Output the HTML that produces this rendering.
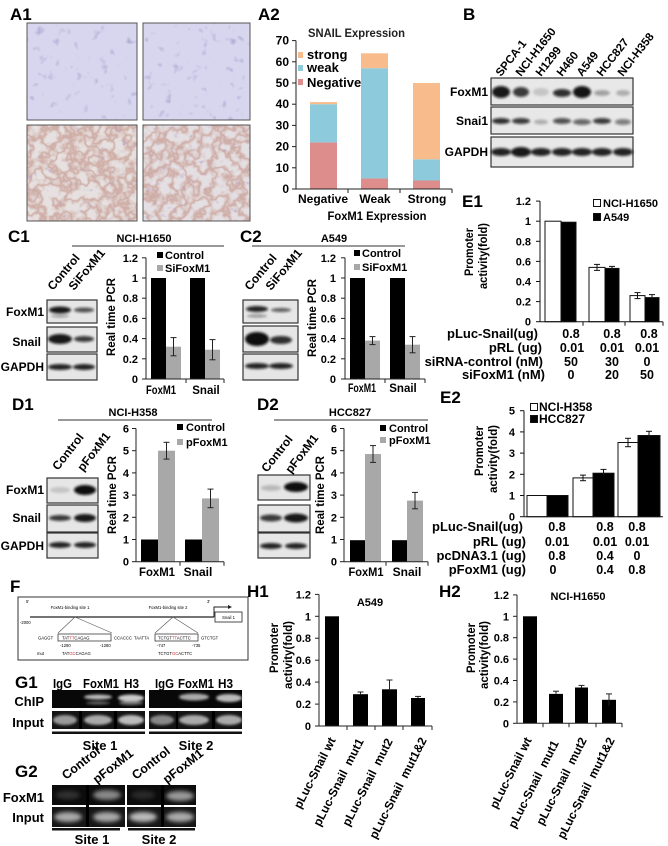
<!DOCTYPE html>
<html><head><meta charset="utf-8"><style>
html,body{margin:0;padding:0;background:#fff;}
svg{display:block;font-family:"Liberation Sans",Arial,sans-serif;font-weight:bold;}
.pl{font-size:17px;}
.tk{font-size:11px;}
.lb{font-size:12px;}
.sm{font-size:4.2px;font-weight:normal;}
</style></head><body>
<svg width="668" height="846" viewBox="0 0 668 846" xmlns="http://www.w3.org/2000/svg">
<defs>
<filter id="bl" x="-50%" y="-100%" width="200%" height="300%"><feGaussianBlur stdDeviation="1.3"/></filter>
<filter id="bl2" x="-50%" y="-100%" width="200%" height="300%"><feGaussianBlur stdDeviation="2"/></filter>
<filter id="mt" x="0" y="0" width="1" height="1">
 <feTurbulence type="fractalNoise" baseFrequency="0.11" numOctaves="2" seed="4"/>
 <feColorMatrix type="matrix" values="0 0 0 0 0.38  0 0 0 0 0.36  0 0 0 0 0.62  1 0 0 0 0"/>
 <feComponentTransfer><feFuncA type="table" tableValues="0 0 0 0 0 0 0.4 0.8 1"/></feComponentTransfer>
</filter>
<filter id="mb" x="0" y="0" width="1" height="1">
 <feTurbulence type="fractalNoise" baseFrequency="0.07" numOctaves="3" seed="7"/>
 <feColorMatrix type="matrix" values="0 0 0 0 0.58  0 0 0 0 0.34  0 0 0 0 0.30  1 0 0 0 0"/>
 <feComponentTransfer><feFuncA type="table" tableValues="0 0 0 0 0 0.3 0.8 0.3 0 0 0 0 0"/></feComponentTransfer>
</filter>
<filter id="mb2" x="0" y="0" width="1" height="1">
 <feTurbulence type="fractalNoise" baseFrequency="0.15" numOctaves="2" seed="11"/>
 <feColorMatrix type="matrix" values="0 0 0 0 0.42  0 0 0 0 0.32  0 0 0 0 0.58  1 0 0 0 0"/>
 <feComponentTransfer><feFuncA type="table" tableValues="0 0 0 0 0 0 0 0.3 0.7 0.9"/></feComponentTransfer>
</filter>
</defs>

<!-- ================= A1 ================= -->
<text class="pl" x="10" y="20">A1</text>
<rect x="27" y="23" width="110" height="97" fill="#d8d6ee"/>
<rect x="27" y="23" width="110" height="97" filter="url(#mt)"/>
<rect x="27" y="23" width="110" height="97" fill="none" stroke="#555" stroke-width="1"/>
<rect x="143" y="23" width="107" height="97" fill="#d8d6ee"/>
<rect x="143" y="23" width="107" height="97" filter="url(#mt)"/>
<rect x="143" y="23" width="107" height="97" fill="none" stroke="#555" stroke-width="1"/>
<rect x="27" y="125" width="110" height="96" fill="#e6e1e0"/>
<rect x="27" y="125" width="110" height="96" filter="url(#mb)"/>
<rect x="27" y="125" width="110" height="96" filter="url(#mb2)"/>
<rect x="27" y="125" width="110" height="96" fill="none" stroke="#555" stroke-width="1"/>
<rect x="143" y="125" width="107" height="96" fill="#e4dfe2"/>
<rect x="143" y="125" width="107" height="96" filter="url(#mb2)"/>
<rect x="143" y="125" width="107" height="96" filter="url(#mb)"/>
<rect x="143" y="125" width="107" height="96" fill="none" stroke="#555" stroke-width="1"/>

<!-- ================= A2 ================= -->
<text class="pl" x="258" y="20">A2</text>
<text x="308" y="37" font-size="12" textLength="97" lengthAdjust="spacingAndGlyphs" fill="#222">SNAIL Expression</text>
<g class="lb" font-size="12" text-anchor="end">
<text x="289" y="193">0</text><text x="289" y="171.8">10</text><text x="289" y="150.6">20</text><text x="289" y="129.4">30</text>
<text x="289" y="108.2">40</text><text x="289" y="87">50</text><text x="289" y="65.8">60</text><text x="289" y="44.6">70</text>
</g>
<g stroke="#222" stroke-width="1">
<line x1="296" y1="40.6" x2="296" y2="189"/>
<line x1="292" y1="189" x2="296" y2="189"/><line x1="292" y1="167.8" x2="296" y2="167.8"/><line x1="292" y1="146.6" x2="296" y2="146.6"/>
<line x1="292" y1="125.4" x2="296" y2="125.4"/><line x1="292" y1="104.2" x2="296" y2="104.2"/><line x1="292" y1="83" x2="296" y2="83"/>
<line x1="292" y1="61.8" x2="296" y2="61.8"/><line x1="292" y1="40.6" x2="296" y2="40.6"/>
</g>
<rect x="310" y="142.4" width="27" height="46.6" fill="#dd8d8c"/>
<rect x="310" y="104.2" width="27" height="38.2" fill="#8dcadb"/>
<rect x="310" y="102.1" width="27" height="2.1" fill="#f8bb8c"/>
<rect x="361" y="178.4" width="27" height="10.6" fill="#dd8d8c"/>
<rect x="361" y="68.2" width="27" height="110.2" fill="#8dcadb"/>
<rect x="361" y="53.3" width="27" height="14.9" fill="#f8bb8c"/>
<rect x="413" y="180.5" width="27" height="8.5" fill="#dd8d8c"/>
<rect x="413" y="159.3" width="27" height="21.2" fill="#8dcadb"/>
<rect x="413" y="83" width="27" height="76.3" fill="#f8bb8c"/>
<g stroke="#222" stroke-width="1">
<line x1="296" y1="189" x2="452" y2="189"/>
<line x1="348" y1="189" x2="348" y2="193"/><line x1="400" y1="189" x2="400" y2="193"/><line x1="452" y1="189" x2="452" y2="193"/>
</g>
<g class="lb" text-anchor="middle">
<text x="323" y="203">Negative</text><text x="375" y="203">Weak</text><text x="427" y="203">Strong</text>
</g>
<text x="377" y="220" font-size="12" text-anchor="middle" textLength="99" lengthAdjust="spacingAndGlyphs">FoxM1 Expression</text>
<rect x="298" y="52" width="5" height="6" fill="#f8bb8c"/>
<rect x="298" y="65" width="5" height="6" fill="#8dcadb"/>
<rect x="298" y="79" width="5" height="6" fill="#dd8d8c"/>
<g font-size="13"><text x="307" y="59">strong</text><text x="307" y="72">weak</text><text x="307" y="87">Negative</text></g>

<!-- ================= B ================= -->
<text class="pl" x="463" y="20">B</text>
<g font-size="11.5">
<text transform="translate(501,77) rotate(-52)">SPCA-1</text>
<text transform="translate(521,77) rotate(-52)">NCI-H1650</text>
<text transform="translate(541,77) rotate(-52)">H1299</text>
<text transform="translate(562,77) rotate(-52)">H460</text>
<text transform="translate(582,77) rotate(-52)">A549</text>
<text transform="translate(602,77) rotate(-52)">HCC827</text>
<text transform="translate(623,77) rotate(-52)">NCI-H358</text>
</g>
<rect x="491" y="78" width="142" height="27" fill="#e8e8e8" stroke="#333" stroke-width="1.2"/>
<rect x="491" y="107" width="142" height="27" fill="#e8e8e8" stroke="#333" stroke-width="1.2"/>
<rect x="491" y="137" width="142" height="30" fill="#e8e8e8" stroke="#333" stroke-width="1.2"/>
<g filter="url(#bl)" fill="#111">
<ellipse cx="501" cy="92" rx="9" ry="6" opacity=".95"/>
<ellipse cx="521" cy="92" rx="8" ry="5" opacity=".8"/>
<ellipse cx="541" cy="92" rx="8" ry="4" opacity=".15"/>
<ellipse cx="562" cy="93" rx="9" ry="4" opacity=".85"/>
<ellipse cx="582" cy="92" rx="9" ry="6" opacity=".97"/>
<ellipse cx="602" cy="93" rx="8" ry="3" opacity=".3"/>
<ellipse cx="623" cy="93" rx="7" ry="3" opacity=".25"/>
<ellipse cx="501" cy="121" rx="9" ry="3" opacity=".85"/>
<ellipse cx="521" cy="121" rx="9" ry="3" opacity=".8"/>
<ellipse cx="541" cy="122" rx="7" ry="2.5" opacity=".25"/>
<ellipse cx="562" cy="121" rx="9" ry="3" opacity=".7"/>
<ellipse cx="582" cy="122" rx="9" ry="3" opacity=".6"/>
<ellipse cx="602" cy="121" rx="9" ry="3" opacity=".8"/>
<ellipse cx="623" cy="122" rx="8" ry="3" opacity=".5"/>
<ellipse cx="501" cy="152" rx="10" ry="4" opacity=".9"/>
<ellipse cx="521" cy="152" rx="10" ry="5" opacity=".95"/>
<ellipse cx="541" cy="152" rx="10" ry="4" opacity=".9"/>
<ellipse cx="562" cy="152" rx="10" ry="4" opacity=".9"/>
<ellipse cx="582" cy="152" rx="10" ry="4" opacity=".9"/>
<ellipse cx="602" cy="152" rx="10" ry="4" opacity=".9"/>
<ellipse cx="623" cy="152" rx="10" ry="4" opacity=".9"/>
</g>
<g font-size="12" text-anchor="end">
<text x="488" y="96">FoxM1</text><text x="488" y="125">Snai1</text><text x="488" y="156">GAPDH</text>
</g>

<!-- ================= C1 ================= -->
<text class="pl" x="8" y="242">C1</text>
<text x="144" y="242" font-size="11" text-anchor="middle">NCI-H1650</text>
<line x1="72" y1="246" x2="224" y2="246" stroke="#333" stroke-width="1"/>
<g font-size="12">
<text transform="translate(53,291) rotate(-50)">Control</text>
<text transform="translate(74,291) rotate(-50)">SiFoxM1</text>
</g>
<rect x="47" y="300" width="50" height="23" fill="#e6e6e6" stroke="#333" stroke-width="1.2"/>
<rect x="47" y="327" width="50" height="25" fill="#e6e6e6" stroke="#333" stroke-width="1.2"/>
<rect x="47" y="354" width="50" height="26" fill="#e6e6e6" stroke="#333" stroke-width="1.2"/>
<g filter="url(#bl)" fill="#111">
<ellipse cx="60" cy="310" rx="11" ry="3.5" opacity=".95"/>
<ellipse cx="60" cy="316" rx="9" ry="1.5" opacity=".35"/>
<ellipse cx="84" cy="310" rx="10" ry="2.5" opacity=".7"/>
<ellipse cx="60" cy="339" rx="12" ry="5" opacity=".95"/>
<ellipse cx="84" cy="339" rx="10" ry="3" opacity=".8"/>
<ellipse cx="60" cy="367" rx="12" ry="3" opacity=".9"/>
<ellipse cx="84" cy="367" rx="11" ry="3" opacity=".9"/>
</g>
<g font-size="12" text-anchor="end">
<text x="44" y="316">FoxM1</text><text x="41" y="346">Snail</text><text x="44" y="371">GAPDH</text>
</g>
<text transform="translate(115,317) rotate(-90)" font-size="12" text-anchor="middle" textLength="78" lengthAdjust="spacingAndGlyphs">Real time PCR</text>
<g class="tk" text-anchor="end">
<text x="138" y="383">0</text><text x="138" y="362.8">0.2</text><text x="138" y="342.6">0.4</text><text x="138" y="322.4">0.6</text>
<text x="138" y="302.2">0.8</text><text x="138" y="282">1</text><text x="138" y="261.8">1.2</text>
</g>
<rect x="151" y="278" width="15" height="101" fill="#000"/>
<rect x="166" y="346.7" width="15" height="32.3" fill="#a8a8a8"/>
<rect x="190" y="278" width="15" height="101" fill="#000"/>
<rect x="205" y="349.7" width="15" height="29.3" fill="#a8a8a8"/>
<g stroke="#222" stroke-width="1">
<line x1="146" y1="257.8" x2="146" y2="379"/>
<line x1="142" y1="379" x2="146" y2="379"/><line x1="142" y1="358.8" x2="146" y2="358.8"/><line x1="142" y1="338.6" x2="146" y2="338.6"/>
<line x1="142" y1="318.4" x2="146" y2="318.4"/><line x1="142" y1="298.2" x2="146" y2="298.2"/><line x1="142" y1="278" x2="146" y2="278"/><line x1="142" y1="257.8" x2="146" y2="257.8"/>
<line x1="146" y1="379" x2="224" y2="379"/><line x1="186" y1="379" x2="186" y2="383"/><line x1="224" y1="379" x2="224" y2="383"/>
<line x1="173.5" y1="337.6" x2="173.5" y2="355.8"/><line x1="170.5" y1="337.6" x2="176.5" y2="337.6"/><line x1="170.5" y1="355.8" x2="176.5" y2="355.8"/>
<line x1="212.5" y1="339.6" x2="212.5" y2="359.8"/><line x1="209.5" y1="339.6" x2="215.5" y2="339.6"/><line x1="209.5" y1="359.8" x2="215.5" y2="359.8"/>
</g>
<rect x="157" y="252" width="6" height="6" fill="#000"/>
<rect x="157" y="265" width="6" height="6" fill="#a8a8a8"/>
<g font-size="11"><text x="165" y="259">Control</text><text x="165" y="272">SiFoxM1</text></g>
<g font-size="11.5" text-anchor="middle"><text x="161" y="394" textLength="30" lengthAdjust="spacingAndGlyphs">FoxM1</text><text x="206" y="394">Snail</text></g>

<!-- ================= C2 ================= -->
<text class="pl" x="240" y="242">C2</text>
<text x="334" y="242" font-size="11" text-anchor="middle">A549</text>
<line x1="252" y1="246" x2="405" y2="246" stroke="#333" stroke-width="1"/>
<g font-size="12">
<text transform="translate(250,291) rotate(-50)">Control</text>
<text transform="translate(271,291) rotate(-50)">SiFoxM1</text>
</g>
<rect x="243" y="300" width="55" height="23" fill="#e6e6e6" stroke="#333" stroke-width="1.2"/>
<rect x="243" y="326" width="55" height="26" fill="#e6e6e6" stroke="#333" stroke-width="1.2"/>
<rect x="243" y="354" width="55" height="26" fill="#e6e6e6" stroke="#333" stroke-width="1.2"/>
<g filter="url(#bl)" fill="#111">
<ellipse cx="257" cy="309" rx="11" ry="3" opacity=".9"/>
<ellipse cx="257" cy="316" rx="10" ry="1.5" opacity=".4"/>
<ellipse cx="281" cy="310" rx="10" ry="2" opacity=".65"/>
<ellipse cx="257" cy="339" rx="12" ry="7" opacity="1"/>
<ellipse cx="281" cy="340" rx="11" ry="4" opacity=".85"/>
<ellipse cx="257" cy="366" rx="12" ry="3" opacity=".9"/>
<ellipse cx="281" cy="366" rx="12" ry="3" opacity=".9"/>
</g>
<text transform="translate(316,318) rotate(-90)" font-size="12" text-anchor="middle" textLength="78" lengthAdjust="spacingAndGlyphs">Real time PCR</text>
<g class="tk" text-anchor="end">
<text x="336" y="383">0</text><text x="336" y="362.8">0.2</text><text x="336" y="342.6">0.4</text><text x="336" y="322.4">0.6</text>
<text x="336" y="302.2">0.8</text><text x="336" y="282">1</text><text x="336" y="261.8">1.2</text>
</g>
<rect x="350" y="278" width="15" height="101" fill="#000"/>
<rect x="365" y="340.6" width="15" height="38.4" fill="#a8a8a8"/>
<rect x="390" y="278" width="15" height="101" fill="#000"/>
<rect x="405" y="344.7" width="15" height="34.3" fill="#a8a8a8"/>
<g stroke="#222" stroke-width="1">
<line x1="345" y1="257.8" x2="345" y2="379"/>
<line x1="341" y1="379" x2="345" y2="379"/><line x1="341" y1="358.8" x2="345" y2="358.8"/><line x1="341" y1="338.6" x2="345" y2="338.6"/>
<line x1="341" y1="318.4" x2="345" y2="318.4"/><line x1="341" y1="298.2" x2="345" y2="298.2"/><line x1="341" y1="278" x2="345" y2="278"/><line x1="341" y1="257.8" x2="345" y2="257.8"/>
<line x1="345" y1="379" x2="425" y2="379"/><line x1="385" y1="379" x2="385" y2="383"/><line x1="425" y1="379" x2="425" y2="383"/>
<line x1="372.5" y1="336.6" x2="372.5" y2="344.6"/><line x1="369.5" y1="336.6" x2="375.5" y2="336.6"/><line x1="369.5" y1="344.6" x2="375.5" y2="344.6"/>
<line x1="412.5" y1="336.6" x2="412.5" y2="352.8"/><line x1="409.5" y1="336.6" x2="415.5" y2="336.6"/><line x1="409.5" y1="352.8" x2="415.5" y2="352.8"/>
</g>
<rect x="354" y="250" width="6" height="6" fill="#000"/>
<rect x="354" y="264" width="6" height="6" fill="#a8a8a8"/>
<g font-size="11"><text x="362" y="257">Control</text><text x="362" y="271">SiFoxM1</text></g>
<g font-size="11.5" text-anchor="middle"><text x="362" y="392" textLength="28" lengthAdjust="spacingAndGlyphs">FoxM1</text><text x="403" y="392">Snail</text></g>

<!-- ================= E1 ================= -->
<text class="pl" x="462" y="207">E1</text>
<text transform="translate(473,252) rotate(-90)" font-size="12" text-anchor="middle" textLength="48" lengthAdjust="spacingAndGlyphs">Promoter</text>
<text transform="translate(487,256) rotate(-90)" font-size="12" text-anchor="middle" textLength="66" lengthAdjust="spacingAndGlyphs">activity(fold)</text>
<g class="tk" text-anchor="end">
<text x="531" y="325.7">0</text><text x="531" y="305.6">0.2</text><text x="531" y="285.5">0.4</text><text x="531" y="265.4">0.6</text>
<text x="531" y="245.3">0.8</text><text x="531" y="225.2">1</text><text x="531" y="205.1">1.2</text>
</g>
<g stroke="#111" stroke-width="1">
<rect x="545" y="221.2" width="16" height="100.5" fill="#fff"/>
<rect x="561" y="222.2" width="15" height="99.5" fill="#000"/>
<rect x="589" y="267.4" width="16" height="54.3" fill="#fff"/>
<rect x="605" y="268.4" width="14" height="53.3" fill="#000"/>
<rect x="630" y="295.6" width="15" height="26.1" fill="#fff"/>
<rect x="645" y="297.6" width="14" height="24.1" fill="#000"/>
<line x1="540" y1="201.1" x2="540" y2="321.7"/>
<line x1="536" y1="321.7" x2="540" y2="321.7"/><line x1="536" y1="301.6" x2="540" y2="301.6"/><line x1="536" y1="281.5" x2="540" y2="281.5"/>
<line x1="536" y1="261.4" x2="540" y2="261.4"/><line x1="536" y1="241.3" x2="540" y2="241.3"/><line x1="536" y1="221.2" x2="540" y2="221.2"/><line x1="536" y1="201.1" x2="540" y2="201.1"/>
<line x1="540" y1="321.7" x2="663" y2="321.7"/><line x1="583" y1="321.7" x2="583" y2="325.7"/><line x1="625" y1="321.7" x2="625" y2="325.7"/><line x1="663" y1="321.7" x2="663" y2="325.7"/>
<line x1="597" y1="264.4" x2="597" y2="270.4"/><line x1="594" y1="264.4" x2="600" y2="264.4"/><line x1="594" y1="270.4" x2="600" y2="270.4"/>
<line x1="612" y1="266.4" x2="612" y2="270.4"/><line x1="609" y1="266.4" x2="615" y2="266.4"/>
<line x1="637.5" y1="292.6" x2="637.5" y2="298.6"/><line x1="634.5" y1="292.6" x2="640.5" y2="292.6"/><line x1="634.5" y1="298.6" x2="640.5" y2="298.6"/>
<line x1="652" y1="294.6" x2="652" y2="300.6"/><line x1="649" y1="294.6" x2="655" y2="294.6"/>
<rect x="593.5" y="199.5" width="7" height="7" fill="#fff"/>
<rect x="593.5" y="213.5" width="7" height="7" fill="#000"/>
</g>
<g font-size="11"><text x="603" y="207">NCI-H1650</text><text x="603" y="221">A549</text></g>
<g font-size="13" text-anchor="end">
<text x="538" y="338">pLuc-Snail(ug)</text>
<text x="542" y="352">pRL (ug)</text>
<text x="543" y="366">siRNA-control (nM)</text>
<text x="545" y="379">siFoxM1 (nM)</text>
</g>
<g font-size="12.5" text-anchor="middle">
<text x="571" y="338">0.8</text><text x="612" y="338">0.8</text><text x="649" y="338">0.8</text>
<text x="572" y="352">0.01</text><text x="612" y="352">0.01</text><text x="647" y="352">0.01</text>
<text x="571" y="366">50</text><text x="612" y="366">30</text><text x="647" y="366">0</text>
<text x="571" y="379">0</text><text x="612" y="379">20</text><text x="647" y="379">50</text>
</g>

<!-- ================= D1 ================= -->
<text class="pl" x="12" y="410">D1</text>
<text x="133" y="416" font-size="11" text-anchor="middle">NCI-H358</text>
<line x1="58" y1="420" x2="212" y2="420" stroke="#333" stroke-width="1"/>
<g font-size="12">
<text transform="translate(58,471) rotate(-52)">Control</text>
<text transform="translate(83,472) rotate(-52)">pFoxM1</text>
</g>
<rect x="47" y="478" width="51" height="25" fill="#e6e6e6" stroke="#333" stroke-width="1.2"/>
<rect x="47" y="505" width="51" height="27" fill="#e6e6e6" stroke="#333" stroke-width="1.2"/>
<rect x="47" y="533" width="51" height="25" fill="#e6e6e6" stroke="#333" stroke-width="1.2"/>
<g filter="url(#bl)" fill="#111">
<ellipse cx="60" cy="490" rx="10" ry="3" opacity=".15"/>
<ellipse cx="85" cy="490" rx="11" ry="5" opacity="1"/>
<ellipse cx="60" cy="518" rx="11" ry="3" opacity=".8"/>
<ellipse cx="85" cy="518" rx="11" ry="4" opacity=".95"/>
<ellipse cx="60" cy="545" rx="11" ry="3" opacity=".9"/>
<ellipse cx="85" cy="545" rx="11" ry="3" opacity=".9"/>
</g>
<g font-size="12" text-anchor="end">
<text x="44" y="494">FoxM1</text><text x="41" y="522">Snail</text><text x="44" y="550">GAPDH</text>
</g>
<text transform="translate(116,495) rotate(-90)" font-size="12" text-anchor="middle" textLength="78" lengthAdjust="spacingAndGlyphs">Real time PCR</text>
<g class="tk" text-anchor="end">
<text x="129" y="565.7">0</text><text x="129" y="543.5">1</text><text x="129" y="521.3">2</text><text x="129" y="499.1">3</text>
<text x="129" y="476.9">4</text><text x="129" y="454.7">5</text><text x="129" y="432.5">6</text>
</g>
<rect x="141" y="539.5" width="17" height="22.2" fill="#000"/>
<rect x="158" y="450.7" width="17" height="111" fill="#a8a8a8"/>
<rect x="185" y="539.5" width="17" height="22.2" fill="#000"/>
<rect x="202" y="498.4" width="17" height="63.3" fill="#a8a8a8"/>
<g stroke="#222" stroke-width="1">
<line x1="136" y1="428.5" x2="136" y2="561.7"/>
<line x1="132" y1="561.7" x2="136" y2="561.7"/><line x1="132" y1="539.5" x2="136" y2="539.5"/><line x1="132" y1="517.3" x2="136" y2="517.3"/>
<line x1="132" y1="495.1" x2="136" y2="495.1"/><line x1="132" y1="472.9" x2="136" y2="472.9"/><line x1="132" y1="450.7" x2="136" y2="450.7"/><line x1="132" y1="428.5" x2="136" y2="428.5"/>
<line x1="136" y1="561.7" x2="224" y2="561.7"/><line x1="180" y1="561.7" x2="180" y2="565.7"/><line x1="224" y1="561.7" x2="224" y2="565.7"/>
<line x1="166.5" y1="442.3" x2="166.5" y2="459.1"/><line x1="163.5" y1="442.3" x2="169.5" y2="442.3"/><line x1="163.5" y1="459.1" x2="169.5" y2="459.1"/>
<line x1="210.5" y1="489.1" x2="210.5" y2="507.7"/><line x1="207.5" y1="489.1" x2="213.5" y2="489.1"/><line x1="207.5" y1="507.7" x2="213.5" y2="507.7"/>
</g>
<rect x="177" y="424" width="6" height="6" fill="#000"/>
<rect x="177" y="439" width="6" height="6" fill="#a8a8a8"/>
<g font-size="11"><text x="186" y="431">Control</text><text x="186" y="446">pFoxM1</text></g>
<g font-size="12" text-anchor="middle"><text x="157" y="576" textLength="36" lengthAdjust="spacingAndGlyphs">FoxM1</text><text x="198" y="576">Snail</text></g>

<!-- ================= D2 ================= -->
<text class="pl" x="257" y="410">D2</text>
<text x="350" y="416" font-size="11" text-anchor="middle">HCC827</text>
<line x1="274" y1="420" x2="428" y2="420" stroke="#333" stroke-width="1"/>
<g font-size="12">
<text transform="translate(267,473) rotate(-52)">Control</text>
<text transform="translate(291,474) rotate(-52)">pFoxM1</text>
</g>
<rect x="258" y="475" width="52" height="25" fill="#e6e6e6" stroke="#333" stroke-width="1.2"/>
<rect x="258" y="505" width="52" height="27" fill="#e6e6e6" stroke="#333" stroke-width="1.2"/>
<rect x="258" y="533" width="52" height="25" fill="#e6e6e6" stroke="#333" stroke-width="1.2"/>
<g filter="url(#bl)" fill="#111">
<ellipse cx="271" cy="488" rx="10" ry="3" opacity=".2"/>
<ellipse cx="296" cy="487" rx="12" ry="5" opacity="1"/>
<ellipse cx="271" cy="518" rx="11" ry="3.5" opacity=".8"/>
<ellipse cx="296" cy="518" rx="12" ry="4.5" opacity=".95"/>
<ellipse cx="271" cy="546" rx="11" ry="3" opacity=".9"/>
<ellipse cx="296" cy="546" rx="11" ry="3" opacity=".9"/>
</g>
<text transform="translate(324,495) rotate(-90)" font-size="12" text-anchor="middle" textLength="78" lengthAdjust="spacingAndGlyphs">Real time PCR</text>
<g class="tk" text-anchor="end">
<text x="337" y="565.7">0</text><text x="337" y="543.5">1</text><text x="337" y="521.3">2</text><text x="337" y="499.1">3</text>
<text x="337" y="476.9">4</text><text x="337" y="454.7">5</text><text x="337" y="432.5">6</text>
</g>
<rect x="350" y="540.2" width="15" height="21.5" fill="#000"/>
<rect x="365" y="454" width="16" height="107.7" fill="#a8a8a8"/>
<rect x="392" y="540.2" width="15" height="21.5" fill="#000"/>
<rect x="407" y="500.6" width="16" height="61.1" fill="#a8a8a8"/>
<g stroke="#222" stroke-width="1">
<line x1="344" y1="428.5" x2="344" y2="561.7"/>
<line x1="340" y1="561.7" x2="344" y2="561.7"/><line x1="340" y1="539.5" x2="344" y2="539.5"/><line x1="340" y1="517.3" x2="344" y2="517.3"/>
<line x1="340" y1="495.1" x2="344" y2="495.1"/><line x1="340" y1="472.9" x2="344" y2="472.9"/><line x1="340" y1="450.7" x2="344" y2="450.7"/><line x1="340" y1="428.5" x2="344" y2="428.5"/>
<line x1="344" y1="561.7" x2="428" y2="561.7"/><line x1="386" y1="561.7" x2="386" y2="565.7"/><line x1="428" y1="561.7" x2="428" y2="565.7"/>
<line x1="373" y1="445.6" x2="373" y2="462.4"/><line x1="370" y1="445.6" x2="376" y2="445.6"/><line x1="370" y1="462.4" x2="376" y2="462.4"/>
<line x1="415" y1="492.4" x2="415" y2="508.8"/><line x1="412" y1="492.4" x2="418" y2="492.4"/><line x1="412" y1="508.8" x2="418" y2="508.8"/>
</g>
<rect x="380" y="425" width="6" height="6" fill="#000"/>
<rect x="380" y="437" width="6" height="6" fill="#a8a8a8"/>
<g font-size="11"><text x="389" y="432">Control</text><text x="389" y="444">pFoxM1</text></g>
<g font-size="12" text-anchor="middle"><text x="366" y="576" textLength="35" lengthAdjust="spacingAndGlyphs">FoxM1</text><text x="407" y="576">Snail</text></g>

<!-- ================= E2 ================= -->
<text class="pl" x="440" y="403">E2</text>
<text transform="translate(483,451) rotate(-90)" font-size="12" text-anchor="middle" textLength="50" lengthAdjust="spacingAndGlyphs">Promoter</text>
<text transform="translate(497,459) rotate(-90)" font-size="12" text-anchor="middle" textLength="68" lengthAdjust="spacingAndGlyphs">activity(fold)</text>
<g class="tk" font-size="12" text-anchor="end">
<text x="515" y="520.7">0</text><text x="515" y="499.5">1</text><text x="515" y="478.3">2</text>
<text x="515" y="457.1">3</text><text x="515" y="435.9">4</text><text x="515" y="414.7">5</text>
</g>
<g stroke="#111" stroke-width="1">
<rect x="527" y="495.5" width="20" height="21.2" fill="#fff"/>
<rect x="547" y="495.5" width="21" height="21.2" fill="#000"/>
<rect x="573" y="477.9" width="20" height="38.8" fill="#fff"/>
<rect x="593" y="473.2" width="21" height="43.5" fill="#000"/>
<rect x="618" y="442.5" width="20" height="74.2" fill="#fff"/>
<rect x="638" y="435.5" width="22" height="81.2" fill="#000"/>
<line x1="524" y1="410.7" x2="524" y2="516.7"/>
<line x1="520" y1="516.7" x2="524" y2="516.7"/><line x1="520" y1="495.5" x2="524" y2="495.5"/><line x1="520" y1="474.3" x2="524" y2="474.3"/>
<line x1="520" y1="453.1" x2="524" y2="453.1"/><line x1="520" y1="431.9" x2="524" y2="431.9"/><line x1="520" y1="410.7" x2="524" y2="410.7"/>
<line x1="524" y1="516.7" x2="663" y2="516.7"/>
<line x1="583" y1="475.1" x2="583" y2="480.7"/><line x1="580" y1="475.1" x2="586" y2="475.1"/><line x1="580" y1="480.7" x2="586" y2="480.7"/>
<line x1="603.5" y1="469.4" x2="603.5" y2="477"/><line x1="600.5" y1="469.4" x2="606.5" y2="469.4"/>
<line x1="628" y1="438.3" x2="628" y2="446.7"/><line x1="625" y1="438.3" x2="631" y2="438.3"/><line x1="625" y1="446.7" x2="631" y2="446.7"/>
<line x1="649" y1="431.3" x2="649" y2="439.7"/><line x1="646" y1="431.3" x2="652" y2="431.3"/>
<rect x="530.5" y="403.5" width="7" height="7" fill="#fff"/>
<rect x="530.5" y="415.5" width="7" height="7" fill="#000"/>
</g>
<g font-size="12"><text x="539" y="411">NCI-H358</text><text x="539" y="423">HCC827</text></g>
<g font-size="13" text-anchor="end">
<text x="523" y="531">pLuc-Snail(ug)</text>
<text x="526" y="546">pRL (ug)</text>
<text x="526" y="560">pcDNA3.1 (ug)</text>
<text x="526" y="574">pFoxM1 (ug)</text>
</g>
<g font-size="12.5" text-anchor="middle">
<text x="557" y="531">0.8</text><text x="605" y="531">0.8</text><text x="637" y="531">0.8</text>
<text x="557" y="546">0.01</text><text x="605" y="546">0.01</text><text x="637" y="546">0.01</text>
<text x="557" y="560">0.8</text><text x="605" y="560">0.4</text><text x="637" y="560">0</text>
<text x="553" y="574">0</text><text x="605" y="574">0.4</text><text x="637" y="574">0.8</text>
</g>

<!-- ================= F ================= -->
<text class="pl" x="10" y="592">F</text>
<rect x="18" y="597" width="230" height="63" fill="#fff" stroke="#333" stroke-width="1"/>
<text class="sm" x="26" y="603">5'</text>
<text class="sm" x="207" y="603">3'</text>
<text class="sm" x="70" y="609" text-anchor="middle">FoxM1-binding site 1</text>
<text class="sm" x="168" y="609" text-anchor="middle">FoxM1-binding site 2</text>
<line x1="30" y1="617" x2="214" y2="617" stroke="#222" stroke-width="1.2"/>
<path d="M214 617 V607 H230" fill="none" stroke="#222" stroke-width="1"/>
<path d="M228 605 L232 607 L228 609 Z" fill="#222"/>
<rect x="215" y="612" width="27" height="10" fill="#fff" stroke="#222" stroke-width="0.8"/>
<text class="sm" x="228.5" y="619" text-anchor="middle">Snail 1</text>
<text class="sm" x="20" y="624">-2000</text>
<g stroke="#555" stroke-width="0.6" fill="none">
<path d="M75 617 L58 633 M75 617 L112 633"/>
<path d="M173 617 L155 633 M173 617 L198 633"/>
</g>
<rect x="58" y="634" width="53" height="7" fill="none" stroke="#222" stroke-width="0.7"/>
<rect x="155" y="634" width="43" height="7" fill="none" stroke="#222" stroke-width="0.7"/>
<text class="sm" x="38" y="639.5">GAGGT</text>
<text class="sm" x="62" y="639.5">TAT<tspan fill="#d22">TT</tspan>CAGAG</text>
<text class="sm" x="114" y="639.5">CCACCC</text>
<text class="sm" x="134" y="639.5">TAATTA</text>
<text class="sm" x="158" y="639.5">TCTGT<tspan fill="#d22">TT</tspan>ACTTC</text>
<text class="sm" x="201" y="639.5">GTCTGT</text>
<text class="sm" x="60" y="647">-1290</text><text class="sm" x="100" y="647">-1280</text>
<text class="sm" x="157" y="647">-747</text><text class="sm" x="192" y="647">-735</text>
<text class="sm" x="37" y="655">mut</text>
<text class="sm" x="62" y="655">TAT<tspan fill="#d22">GC</tspan>CAGAG</text>
<text class="sm" x="158" y="655">TCTGT<tspan fill="#d22">GC</tspan>ACTTC</text>

<!-- ================= G1 ================= -->
<text class="pl" x="15" y="688">G1</text>
<g font-size="12.5">
<text x="53" y="688" textLength="19" lengthAdjust="spacingAndGlyphs">IgG</text>
<text x="83" y="688" textLength="36" lengthAdjust="spacingAndGlyphs">FoxM1</text>
<text x="124" y="688" textLength="15" lengthAdjust="spacingAndGlyphs">H3</text>
<text x="155" y="688" textLength="19" lengthAdjust="spacingAndGlyphs">IgG</text>
<text x="178" y="688" textLength="36" lengthAdjust="spacingAndGlyphs">FoxM1</text>
<text x="218" y="688" textLength="15" lengthAdjust="spacingAndGlyphs">H3</text>
</g>
<rect x="52" y="690" width="93" height="18" fill="#080808"/>
<rect x="149" y="690" width="93" height="18" fill="#080808"/>
<rect x="52" y="711" width="93" height="18" fill="#141414"/>
<rect x="149" y="711" width="93" height="18" fill="#141414"/>
<g filter="url(#bl)">
<ellipse cx="98" cy="697" rx="14" ry="2.5" fill="#bbb"/>
<ellipse cx="98" cy="703" rx="12" ry="1.5" fill="#666"/>
<ellipse cx="131" cy="698" rx="13" ry="3.5" fill="#ccc"/>
<ellipse cx="131" cy="703" rx="12" ry="2" fill="#777"/>
<ellipse cx="194" cy="697" rx="15" ry="3.5" fill="#aaa"/>
<ellipse cx="229" cy="698" rx="13" ry="4" fill="#bbb"/>
<ellipse cx="65" cy="720" rx="12" ry="5" fill="#999"/>
<ellipse cx="98" cy="720" rx="14" ry="5" fill="#aaa"/>
<ellipse cx="131" cy="720" rx="13" ry="5" fill="#bbb"/>
<ellipse cx="162" cy="720" rx="12" ry="5" fill="#888"/>
<ellipse cx="194" cy="720" rx="15" ry="5" fill="#aaa"/>
<ellipse cx="229" cy="720" rx="13" ry="5" fill="#aaa"/>
</g>
<g fill="#000">
<rect x="79" y="711" width="3" height="18"/><rect x="114" y="711" width="3" height="18"/>
<rect x="176" y="711" width="2" height="18"/><rect x="212" y="711" width="3" height="18"/>
</g>
<rect x="52" y="731.5" width="93" height="2.5" fill="#111"/>
<rect x="149" y="731.5" width="93" height="2.5" fill="#111"/>
<g font-size="13" text-anchor="end"><text x="44" y="706">ChIP</text><text x="44" y="727">Input</text></g>
<g font-size="13" text-anchor="middle"><text x="100" y="750">Site 1</text><text x="196" y="750">Site 2</text></g>

<!-- ================= G2 ================= -->
<text class="pl" x="15" y="777">G2</text>
<g font-size="12.5">
<text transform="translate(66,780) rotate(-38)">Control</text>
<text transform="translate(97,784) rotate(-38)">pFoxM1</text>
<text transform="translate(136,780) rotate(-38)">Control</text>
<text transform="translate(167,784) rotate(-38)">pFoxM1</text>
</g>
<rect x="52" y="785" width="73" height="20" fill="#0c0c0c"/>
<rect x="127" y="785" width="69" height="20" fill="#0c0c0c"/>
<rect x="52" y="807" width="73" height="20" fill="#161616"/>
<rect x="127" y="807" width="69" height="20" fill="#161616"/>
<g filter="url(#bl2)">
<ellipse cx="68" cy="795" rx="12" ry="4" fill="#333"/>
<ellipse cx="107" cy="795" rx="14" ry="5" fill="#888"/>
<ellipse cx="143" cy="795" rx="12" ry="4" fill="#2a2a2a"/>
<ellipse cx="180" cy="796" rx="14" ry="5" fill="#999"/>
<ellipse cx="68" cy="817" rx="14" ry="5" fill="#aaa"/>
<ellipse cx="107" cy="817" rx="14" ry="5" fill="#aaa"/>
<ellipse cx="143" cy="817" rx="14" ry="5" fill="#bbb"/>
<ellipse cx="180" cy="817" rx="14" ry="5" fill="#aaa"/>
</g>
<g fill="#000"><rect x="86" y="785" width="3" height="42"/><rect x="161" y="785" width="3" height="42"/></g>
<rect x="52" y="828" width="68" height="2.5" fill="#111"/>
<rect x="128" y="828" width="67" height="2.5" fill="#111"/>
<g font-size="13" text-anchor="end"><text x="44" y="802">FoxM1</text><text x="44" y="822">Input</text></g>
<g font-size="13" text-anchor="middle"><text x="92" y="844">Site 1</text><text x="159" y="844">Site 2</text></g>

<!-- ================= H1 ================= -->
<text class="pl" x="247" y="597">H1</text>
<text x="370" y="606" font-size="11" text-anchor="middle">A549</text>
<text transform="translate(278,648) rotate(-90)" font-size="12" text-anchor="middle" textLength="50" lengthAdjust="spacingAndGlyphs">Promoter</text>
<text transform="translate(292,655) rotate(-90)" font-size="12" text-anchor="middle" textLength="68" lengthAdjust="spacingAndGlyphs">activity(fold)</text>
<g class="tk" text-anchor="end">
<text x="311" y="730">0</text><text x="311" y="708.1">0.2</text><text x="311" y="686.1">0.4</text><text x="311" y="664.2">0.6</text>
<text x="311" y="642.2">0.8</text><text x="311" y="620.3">1</text><text x="311" y="598.4">1.2</text>
</g>
<rect x="325" y="616.3" width="14" height="109.7" fill="#000"/>
<rect x="353" y="694.2" width="15" height="31.8" fill="#000"/>
<rect x="382" y="689.3" width="15" height="36.7" fill="#000"/>
<rect x="411" y="698" width="14" height="28" fill="#000"/>
<g stroke="#222" stroke-width="1">
<line x1="319" y1="594.4" x2="319" y2="726"/>
<line x1="315" y1="726" x2="319" y2="726"/><line x1="315" y1="704.1" x2="319" y2="704.1"/><line x1="315" y1="682.1" x2="319" y2="682.1"/>
<line x1="315" y1="660.2" x2="319" y2="660.2"/><line x1="315" y1="638.2" x2="319" y2="638.2"/><line x1="315" y1="616.3" x2="319" y2="616.3"/><line x1="315" y1="594.4" x2="319" y2="594.4"/>
<line x1="319" y1="726" x2="432" y2="726"/>
<line x1="347" y1="726" x2="347" y2="730"/><line x1="375" y1="726" x2="375" y2="730"/><line x1="403" y1="726" x2="403" y2="730"/><line x1="432" y1="726" x2="432" y2="730"/>
<line x1="360.5" y1="692" x2="360.5" y2="694.2"/><line x1="357.5" y1="692" x2="363.5" y2="692"/>
<line x1="389.5" y1="680" x2="389.5" y2="689.3"/><line x1="386.5" y1="680" x2="392.5" y2="680"/>
<line x1="418" y1="696.4" x2="418" y2="698"/><line x1="415" y1="696.4" x2="421" y2="696.4"/>
</g>
<g font-size="12" text-anchor="end">
<text transform="translate(336,740) rotate(-63)">pLuc-Snail wt</text>
<text transform="translate(364,741) rotate(-63)" xml:space="preserve">pLuc-Snail  mut1</text>
<text transform="translate(393,741) rotate(-63)" xml:space="preserve">pLuc-Snail  mut2</text>
<text transform="translate(427,740) rotate(-63)" xml:space="preserve">pLuc-Snail  mut1&amp;2</text>
</g>

<!-- ================= H2 ================= -->
<text class="pl" x="439" y="597">H2</text>
<text x="578" y="600" font-size="11" text-anchor="middle">NCI-H1650</text>
<text transform="translate(475,648) rotate(-90)" font-size="12" text-anchor="middle" textLength="50" lengthAdjust="spacingAndGlyphs">Promoter</text>
<text transform="translate(488,655) rotate(-90)" font-size="12" text-anchor="middle" textLength="68" lengthAdjust="spacingAndGlyphs">activity(fold)</text>
<g class="tk" text-anchor="end">
<text x="509" y="727.3">0</text><text x="509" y="705.9">0.2</text><text x="509" y="684.5">0.4</text><text x="509" y="663.1">0.6</text>
<text x="509" y="641.7">0.8</text><text x="509" y="620.3">1</text><text x="509" y="598.9">1.2</text>
</g>
<rect x="523" y="616.3" width="14" height="107" fill="#000"/>
<rect x="549" y="693.9" width="14" height="29.4" fill="#000"/>
<rect x="575" y="687.5" width="13" height="35.8" fill="#000"/>
<rect x="602" y="699.8" width="14" height="23.5" fill="#000"/>
<g stroke="#222" stroke-width="1">
<line x1="517" y1="594.9" x2="517" y2="723.3"/>
<line x1="513" y1="723.3" x2="517" y2="723.3"/><line x1="513" y1="701.9" x2="517" y2="701.9"/><line x1="513" y1="680.5" x2="517" y2="680.5"/>
<line x1="513" y1="659.1" x2="517" y2="659.1"/><line x1="513" y1="637.7" x2="517" y2="637.7"/><line x1="513" y1="616.3" x2="517" y2="616.3"/><line x1="513" y1="594.9" x2="517" y2="594.9"/>
<line x1="517" y1="723.3" x2="622" y2="723.3"/>
<line x1="543" y1="723.3" x2="543" y2="727.3"/><line x1="569" y1="723.3" x2="569" y2="727.3"/><line x1="596" y1="723.3" x2="596" y2="727.3"/><line x1="622" y1="723.3" x2="622" y2="727.3"/>
<line x1="556" y1="691.2" x2="556" y2="693.9"/><line x1="553" y1="691.2" x2="559" y2="691.2"/>
<line x1="581.5" y1="685.4" x2="581.5" y2="687.5"/><line x1="578.5" y1="685.4" x2="584.5" y2="685.4"/>
<line x1="609" y1="693.9" x2="609" y2="705.7"/><line x1="606" y1="693.9" x2="612" y2="693.9"/>
</g>
<g font-size="12" text-anchor="end">
<text transform="translate(532,740) rotate(-63)">pLuc-Snail wt</text>
<text transform="translate(559,743) rotate(-63)" xml:space="preserve">pLuc-Snail  mut1</text>
<text transform="translate(587,740) rotate(-63)" xml:space="preserve">pLuc-Snail  mut2</text>
<text transform="translate(615,740) rotate(-63)" xml:space="preserve">pLuc-Snail  mut1&amp;2</text>
</g>
</svg>
</body></html>
